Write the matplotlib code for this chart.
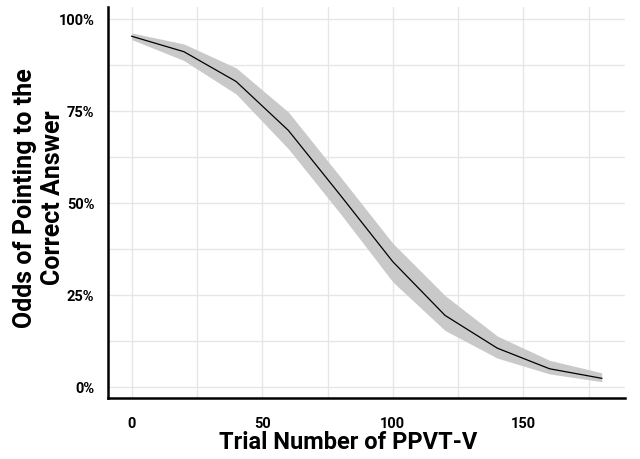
import matplotlib
matplotlib.use('Agg')
import matplotlib.pyplot as plt
from matplotlib.ticker import MultipleLocator, FuncFormatter

# Predicted odds by trial number, with the confidence band
trial = [0, 20, 40, 60, 80, 100, 120, 140, 160, 180]
odds = [0.953, 0.911, 0.830, 0.697, 0.520, 0.340, 0.194, 0.105, 0.049, 0.023]
lower = [0.944, 0.887, 0.796, 0.647, 0.470, 0.285, 0.153, 0.078, 0.035, 0.014]
upper = [0.962, 0.932, 0.867, 0.747, 0.570, 0.390, 0.248, 0.138, 0.072, 0.038]

x_ticks = [0, 50, 100, 150]
y_ticks = [0, 0.25, 0.5, 0.75, 1.0]

plt.rcParams['font.family'] = ['Roboto', 'DejaVu Sans']

fig = plt.figure(figsize=(6.4, 4.6), dpi=100)
ax = fig.add_axes([0.169, 0.133, 0.808, 0.850])

ax.fill_between(trial, lower, upper, color='#c9c9c9', linewidth=0, zorder=2)
ax.plot(trial, odds, color='black', linewidth=0.9, zorder=3)

ax.set_xlim(-9, 189)
ax.set_ylim(-0.030, 1.033)
ax.set_xticks(x_ticks)
ax.set_yticks(y_ticks)
ax.xaxis.set_minor_locator(MultipleLocator(25))
ax.yaxis.set_minor_locator(MultipleLocator(0.125))
ax.yaxis.set_major_formatter(FuncFormatter(lambda v, p: f"{v:.0%}"))

ax.grid(True, which='both', color='#e6e6e6', linewidth=1.0, zorder=0)
ax.set_axisbelow(True)
ax.tick_params(which='both', length=0)
ax.tick_params(axis='y', pad=10, labelsize=10.5)
ax.tick_params(axis='x', pad=13, labelsize=10.5)
for lab in ax.get_xticklabels() + ax.get_yticklabels():
    lab.set_fontweight('bold')

for side in ['top', 'right']:
    ax.spines[side].set_visible(False)
for side in ['left', 'bottom']:
    ax.spines[side].set_linewidth(1.8)
    ax.spines[side].set_color('black')

fig.text(0.544, 0.012, 'Trial Number of PPVT-V', ha='center', va='bottom',
         fontsize=17, fontweight='bold')
fig.text(0.061, 0.57, 'Odds of Pointing to the\nCorrect Answer', ha='center',
         va='center', rotation=90, multialignment='center', fontsize=18,
         fontweight='bold', linespacing=1.25)

fig.savefig('out.png', dpi=100)
